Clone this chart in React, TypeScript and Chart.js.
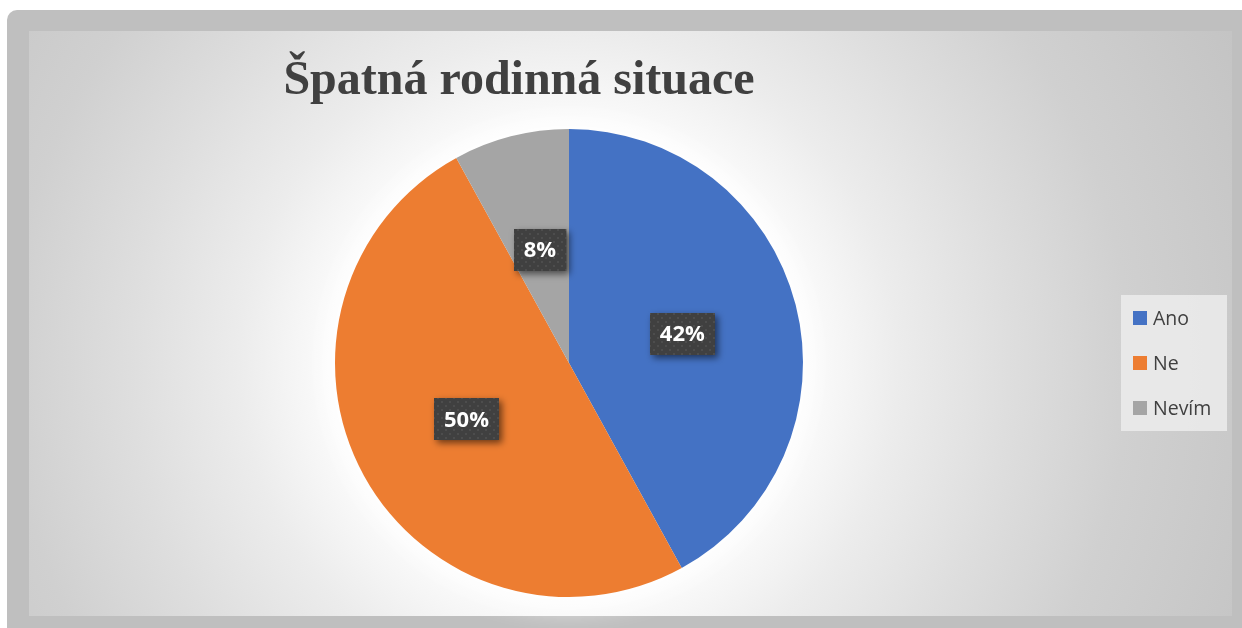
import React, { useEffect, useRef } from "react";
import { Chart, registerables } from "chart.js";

Chart.register(...registerables);

const chartTitle = "Špatná rodinná situace";
const categories = ["Ano", "Ne", "Nevím"];
const values = [42, 50, 8];
const colors = ["#4472C4", "#ED7D31", "#A5A5A5"];

function makePattern(ctx: CanvasRenderingContext2D) {
  const c = document.createElement("canvas");
  c.width = 8;
  c.height = 8;
  const p = c.getContext("2d")!;
  p.fillStyle = "#404040";
  p.fillRect(0, 0, 8, 8);
  p.fillStyle = "#4d4d4d";
  p.fillRect(1, 1, 2, 2);
  p.fillRect(5, 5, 2, 2);
  return ctx.createPattern(c, "repeat");
}

const glowPlugin = {
  id: "glow",
  beforeDatasetsDraw(chart: any) {
    const ctx: CanvasRenderingContext2D = chart.ctx;
    const arc: any = chart.getDatasetMeta(0).data[0];
    if (!arc) return;
    ctx.save();
    ctx.shadowColor = "rgba(255,255,255,1)";
    ctx.shadowBlur = 35;
    ctx.fillStyle = "#ffffff";
    ctx.beginPath();
    ctx.arc(arc.x, arc.y, arc.outerRadius - 2, 0, Math.PI * 2);
    ctx.fill();
    ctx.fill();
    ctx.restore();
  },
};

const decorPlugin = {
  id: "decor",
  afterDraw(chart: any) {
    const ctx: CanvasRenderingContext2D = chart.ctx;
    // title
    ctx.save();
    ctx.font = "bold 48px 'Liberation Serif', 'Times New Roman', serif";
    ctx.fillStyle = "#404040";
    ctx.textAlign = "center";
    ctx.textBaseline = "alphabetic";
    ctx.fillText(chartTitle, 519, 94);
    ctx.restore();

    // data labels
    const meta = chart.getDatasetMeta(0);
    const data = chart.data.datasets[0].data as number[];
    const total = data.reduce((a, b) => a + b, 0);
    const pattern = makePattern(ctx);
    meta.data.forEach((arc: any, i: number) => {
      const pos = arc.tooltipPosition();
      const text = Math.round((data[i] / total) * 100) + "%";
      ctx.save();
      ctx.font = "bold 22px 'Open Sans', sans-serif";
      const w = ctx.measureText(text).width + 20;
      const h = 42;
      const x = Math.round(pos.x - w / 2);
      const y = Math.round(pos.y - h / 2);
      ctx.shadowColor = "rgba(0,0,0,0.55)";
      ctx.shadowBlur = 7;
      ctx.shadowOffsetX = 3;
      ctx.shadowOffsetY = 3;
      ctx.fillStyle = pattern || "#404040";
      ctx.fillRect(x, y, w, h);
      ctx.shadowColor = "transparent";
      ctx.fillStyle = "#ffffff";
      ctx.textAlign = "center";
      ctx.textBaseline = "middle";
      ctx.fillText(text, pos.x, pos.y + 1);
      ctx.restore();
    });

    // legend
    ctx.save();
    ctx.fillStyle = "rgba(236,236,236,0.85)";
    ctx.fillRect(1121, 295, 106, 136);
    ctx.font = "19.5px 'Open Sans', sans-serif";
    ctx.textBaseline = "middle";
    ctx.textAlign = "left";
    const rows = [318, 363, 408];
    chart.data.labels.forEach((lab: string, i: number) => {
      ctx.fillStyle = colors[i];
      ctx.fillRect(1133, rows[i] - 7, 14, 14);
      ctx.fillStyle = "#404040";
      ctx.fillText(lab, 1153, rows[i] + 1);
    });
    ctx.restore();
  },
};

export default function App() {
  const ref = useRef<HTMLCanvasElement>(null);
  useEffect(() => {
    if (!ref.current) return;
    const chart = new Chart(ref.current, {
      type: "pie",
      data: {
        labels: categories,
        datasets: [
          {
            data: values,
            backgroundColor: colors,
            borderWidth: 0,
          },
        ],
      },
      options: {
        responsive: false,
        animation: false,
        layout: { padding: { top: 129, bottom: 31, left: 335, right: 439 } },
        plugins: {
          legend: { display: false },
          tooltip: { enabled: false },
          title: { display: false },
        },
      },
      plugins: [glowPlugin, decorPlugin],
    });
    return () => chart.destroy();
  }, []);

  return (
    <div
      style={{
        position: "fixed",
        left: 0,
        top: 0,
        width: 1242,
        height: 628,
        overflow: "hidden",
        background: "#ffffff",
      }}
    >
      <div
        style={{
          position: "absolute",
          left: 7,
          top: 10,
          width: 1260,
          height: 640,
          background: "#bfbfbf",
          borderRadius: 10,
        }}
      />
      <div
        style={{
          position: "absolute",
          left: 29,
          top: 31,
          width: 1203,
          height: 585,
          background:
            "radial-gradient(circle farthest-corner at 540px 332px, #ffffff 0px, #fbfbfb 240px, #ececec 330px, #dedede 440px, #d0d0d0 560px, #c4c4c4 740px)",
        }}
      />
      <canvas
        ref={ref}
        width={1242}
        height={628}
        style={{ position: "absolute", left: 0, top: 0, width: 1242, height: 628 }}
      />
    </div>
  );
}
